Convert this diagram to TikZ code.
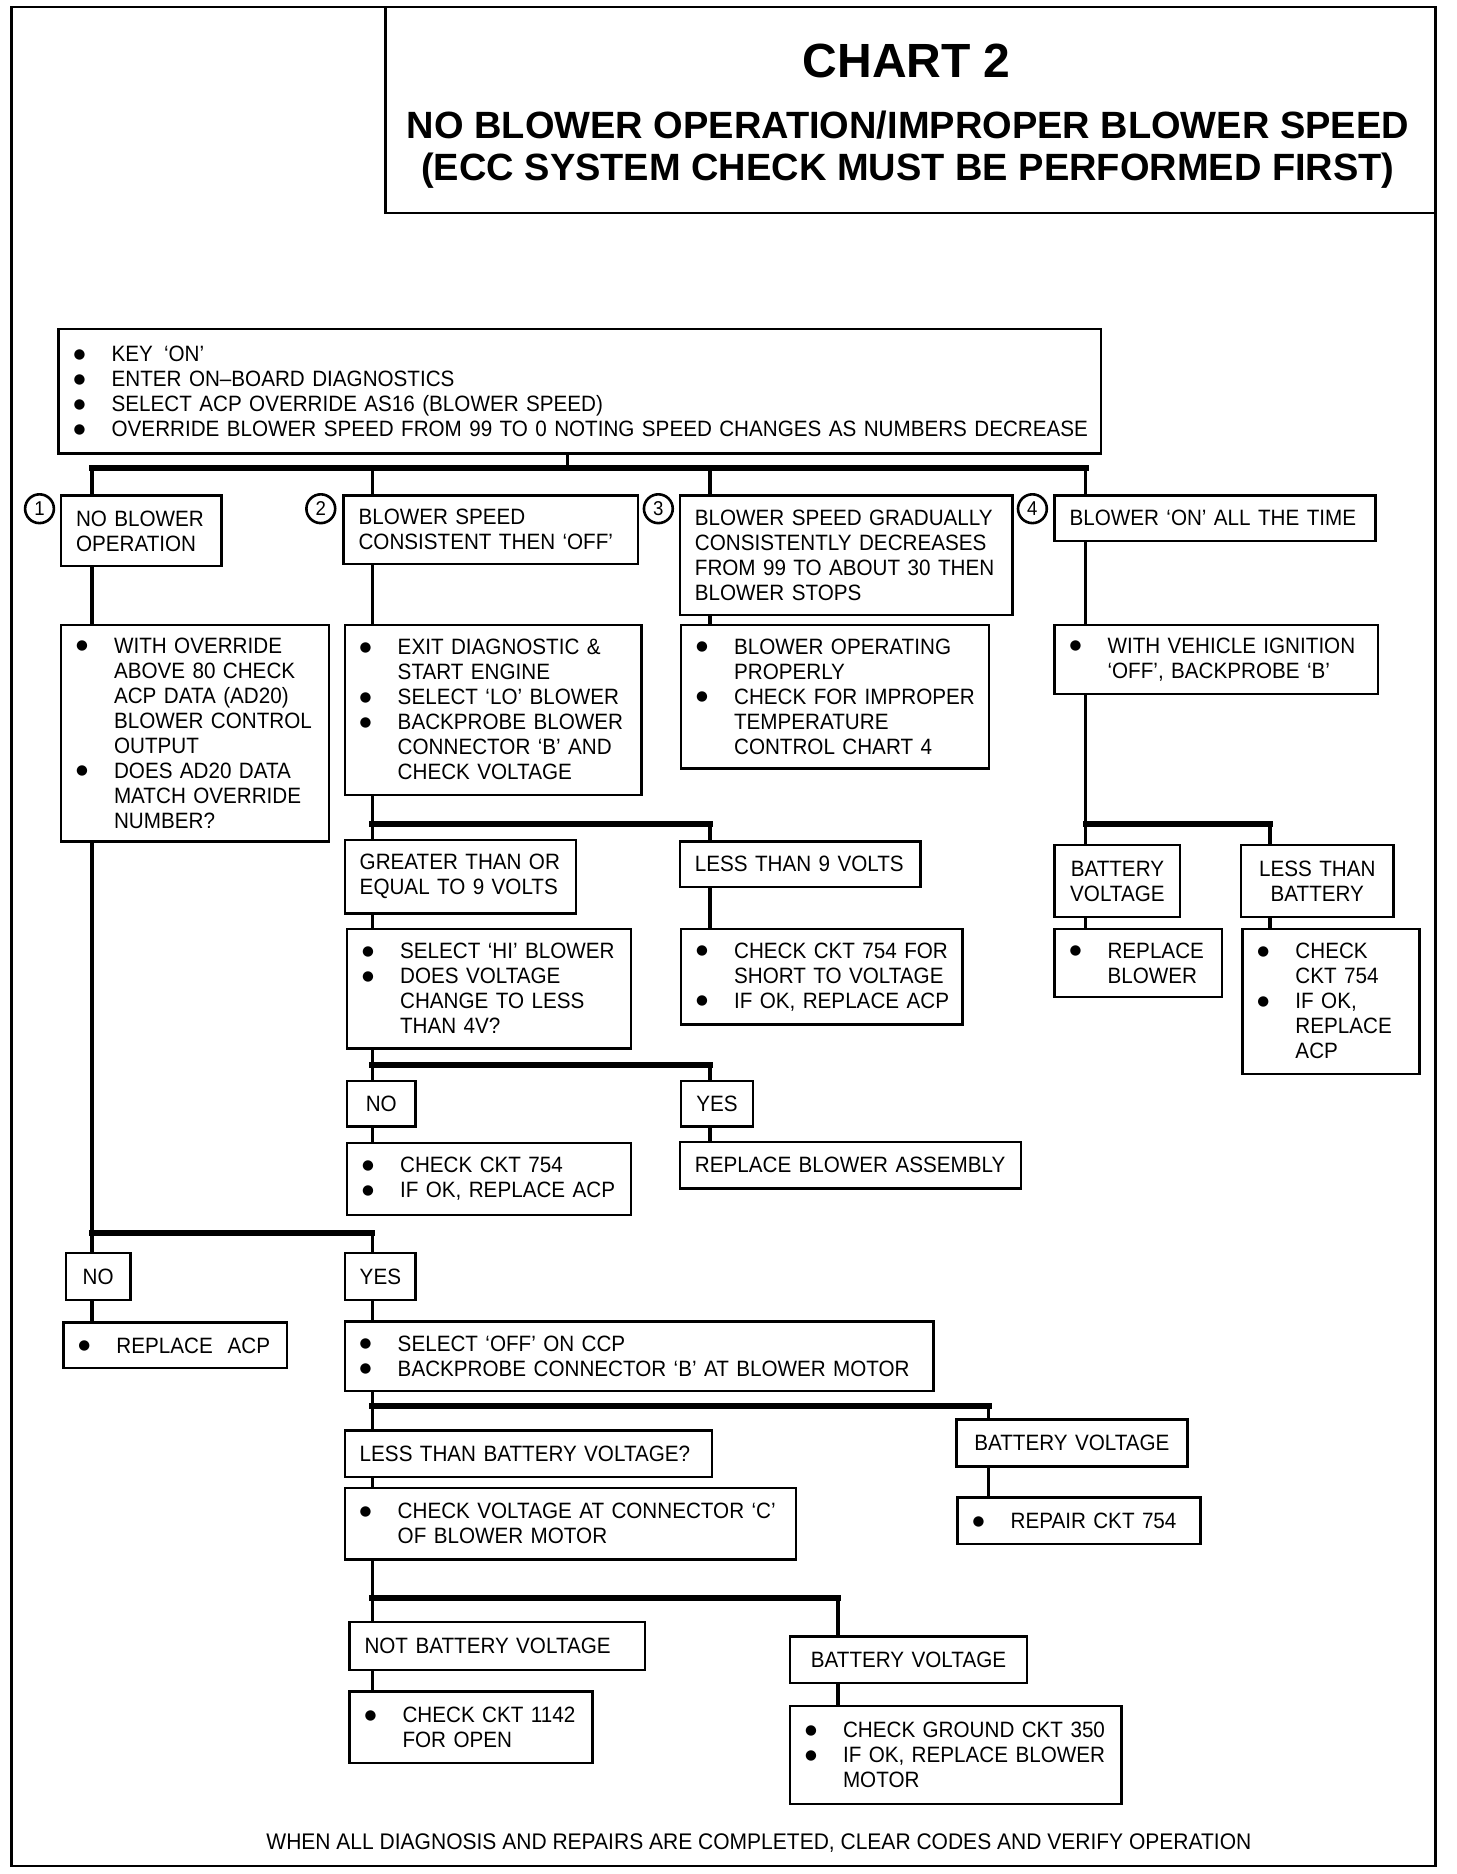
\documentclass[tikz,border=0pt]{standalone}
\usepackage{fontspec}
\setmainfont{Liberation Sans}[FakeStretch=0.93]
\newfontfamily\headfont{Liberation Sans}
\newfontfamily\dotfont{DejaVu Sans}
\newcommand\bodyfont{\fontsize{11.1pt}{12.5pt}\selectfont}
\newcommand\bul[1]{\mbox{\makebox[19pt][l]{\raisebox{1.7pt}{\dotfont\fontsize{6.8pt}{6.8pt}\selectfont ●}}#1}}
\newcommand\ind[1]{\mbox{\hspace*{19pt}#1}}
\newcommand\lne[1]{\mbox{#1}}

\begin{document}
\begin{tikzpicture}[x=0.5985pt, y=-0.5985pt,
        box/.style={draw, line width=1.2pt, anchor=north west, inner xsep=7.5pt, inner ysep=0pt, align=left, font=\bodyfont},
        ctr/.style={box, align=center},
        sz/.code 2 args={\pgfmathsetmacro\bw{#1*0.5985-15}\pgfmathsetmacro\bh{#2*0.5985}%
            \tikzset{text width/.expanded=\bw pt, minimum height/.expanded=\bh pt}},
        num/.style={draw, circle, line width=1.3pt, minimum size=14.4pt, inner sep=0pt, font=\fontsize{10pt}{10pt}\selectfont},
        wire/.style={line width=1.7pt},
        bus/.style={line width=3pt, line cap=rect},
        head/.style={anchor=base, font=\headfont\bfseries\fontsize{19pt}{19pt}\selectfont}]
        \useasboundingbox (0,0) rectangle (1216.4,1565.6);

        \draw[line width=1.3pt] (9.5,5.8) rectangle (1199,1559);
        \draw[line width=1.3pt] (322,5.8) rectangle (1199,178);
        \node[head, font=\headfont\bfseries\fontsize{24pt}{24pt}\selectfont] (chart) at (757.5,65) {CHART 2};
        \node[head] (head1) at (758.5,116) {NO BLOWER OPERATION/IMPROPER BLOWER SPEED};
        \node[head] (head2) at (758.5,151) {(ECC SYSTEM CHECK MUST BE PERFORMED FIRST)};

        \node[box, sz={871}{104}] (s) at (48,274) {\bul{KEY\enspace`ON'}\\ \bul{ENTER ON--BOARD DIAGNOSTICS}\\
            \bul{SELECT ACP OVERRIDE AS16 (BLOWER SPEED)}\\
            \bul{OVERRIDE BLOWER SPEED FROM 99 TO 0 NOTING SPEED CHANGES AS NUMBERS DECREASE}};

        \node[box, sz={134}{59}] (n1) at (50,413) {\lne{NO BLOWER}\\ \lne{OPERATION}};
        \node[box, sz={246}{57}] (n2) at (286,413) {\lne{BLOWER SPEED}\\ \lne{CONSISTENT THEN `OFF'}};
        \node[box, sz={278}{100}] (n3) at (567,413) {\lne{BLOWER SPEED GRADUALLY}\\ \lne{CONSISTENTLY DECREASES}\\
            \lne{FROM 99 TO ABOUT 30 THEN}\\ \lne{BLOWER STOPS}};
        \node[box, sz={268}{38}] (n4) at (880,413) {\lne{BLOWER `ON' ALL THE TIME}};
        \node[num] (c1) at (33,425) {1};
        \node[num] (c2) at (268,425) {2};
        \node[num] (c3) at (550,425) {3};
        \node[num] (c4) at (862.5,425) {4};

        \node[box, sz={224}{181}] (n1b) at (50,521) {\bul{WITH OVERRIDE}\\ \ind{ABOVE 80 CHECK}\\ \ind{ACP DATA (AD20)}\\
            \ind{BLOWER CONTROL}\\ \ind{OUTPUT}\\ \bul{DOES AD20 DATA}\\ \ind{MATCH OVERRIDE}\\ \ind{NUMBER?}};
        \node[box, sz={248}{142}] (n2b) at (287,521) {\bul{EXIT DIAGNOSTIC \&}\\ \ind{START ENGINE}\\ \bul{SELECT `LO' BLOWER}\\
            \bul{BACKPROBE BLOWER}\\ \ind{CONNECTOR `B' AND}\\ \ind{CHECK VOLTAGE}};
        \node[box, sz={257}{120}] (n3b) at (568,521) {\bul{BLOWER OPERATING}\\ \ind{PROPERLY}\\ \bul{CHECK FOR IMPROPER}\\
            \ind{TEMPERATURE}\\ \ind{CONTROL CHART 4}};
        \node[box, sz={270}{58}] (n4b) at (880,521) {\bul{WITH VEHICLE IGNITION}\\ \ind{`OFF', BACKPROBE `B'}};

        \node[box, sz={193}{61}] (g9) at (287,701) {\lne{GREATER THAN OR}\\ \lne{EQUAL TO 9 VOLTS}};
        \node[box, sz={201}{38}] (l9) at (567,702) {\lne{LESS THAN 9 VOLTS}};
        \node[ctr, sz={105}{60}] (bv4) at (880,705) {\lne{BATTERY}\\ \lne{VOLTAGE}};
        \node[ctr, sz={127}{60}] (lb4) at (1036,705) {\lne{LESS THAN}\\ \lne{BATTERY}};

        \node[box, sz={237}{100}] (hi) at (289,775) {\bul{SELECT `HI' BLOWER}\\ \bul{DOES VOLTAGE}\\ \ind{CHANGE TO LESS}\\ \ind{THAN 4V?}};
        \node[box, sz={235}{80}] (ck754s) at (568,775) {\bul{CHECK CKT 754 FOR}\\ \ind{SHORT TO VOLTAGE}\\ \bul{IF OK, REPLACE ACP}};
        \node[box, sz={140}{57}] (rb) at (880,775) {\bul{REPLACE}\\ \ind{BLOWER}};
        \node[box, sz={148}{121}] (ck754e) at (1037,775) {\bul{CHECK}\\ \ind{CKT 754}\\ \bul{IF OK,}\\ \ind{REPLACE}\\ \ind{ACP}};

        \node[ctr, sz={57}{38}] (no2) at (289,902) {\lne{NO}};
        \node[ctr, sz={60}{38}] (yes2) at (568,902) {\lne{YES}};
        \node[box, sz={237}{60}] (ck754n) at (289,954) {\bul{CHECK CKT 754}\\ \bul{IF OK, REPLACE ACP}};
        \node[box, sz={285}{39}] (rba) at (567,953) {\lne{REPLACE BLOWER ASSEMBLY}};

        \node[ctr, sz={54}{39}] (no1) at (54,1046) {\lne{NO}};
        \node[ctr, sz={59}{39}] (yes1) at (287,1046) {\lne{YES}};
        \node[box, sz={187}{38}] (racp) at (52,1104) {\bul{REPLACE\ \ ACP}};
        \node[box, sz={492}{58}] (off) at (287,1103) {\bul{SELECT `OFF' ON CCP}\\ \bul{BACKPROBE CONNECTOR `B' AT BLOWER MOTOR}};

        \node[box, sz={307}{39}] (ltbv) at (287,1194) {\lne{LESS THAN BATTERY VOLTAGE?}};
        \node[ctr, sz={193}{39}] (bv5) at (798,1185) {\lne{BATTERY VOLTAGE}};
        \node[box, sz={203}{39}] (rep754) at (799,1250) {\bul{REPAIR CKT 754}};
        \node[box, sz={377}{60}] (cvc) at (287,1242) {\bul{CHECK VOLTAGE AT CONNECTOR `C'}\\ \ind{OF BLOWER MOTOR}};

        \node[box, sz={247}{40}] (nbv) at (291,1354) {\lne{NOT BATTERY VOLTAGE}};
        \node[ctr, sz={198}{39}] (bv6) at (659,1366) {\lne{BATTERY VOLTAGE}};
        \node[box, sz={203}{60}] (ck1142) at (291,1412) {\bul{CHECK CKT 1142}\\ \ind{FOR OPEN}};
        \node[box, sz={277}{82}] (gnd) at (659,1424) {\bul{CHECK GROUND CKT 350}\\ \bul{IF OK, REPLACE BLOWER}\\ \ind{MOTOR}};

        \node[anchor=base, font=\fontsize{11.3pt}{12.5pt}\selectfont] (foot) at (634,1545) {WHEN ALL DIAGNOSIS AND REPAIRS ARE COMPLETED, CLEAR CODES AND VERIFY OPERATION};

        \coordinate (colS) at (474,0);
        \coordinate (colA) at (77,0);
        \coordinate (colB) at (311,0);
        \coordinate (colC) at (593,0);
        \coordinate (colD) at (907,0);
        \coordinate (colE) at (1061,0);
        \coordinate (colG) at (826,0);
        \coordinate (colH) at (700,0);
        \coordinate (bus1) at (0,391);
        \coordinate (bus2) at (0,688);
        \coordinate (bus4) at (0,688);
        \coordinate (bus3) at (0,890);
        \coordinate (bus0) at (0,1030);
        \coordinate (bus5) at (0,1175);
        \coordinate (bus6) at (0,1335);

        \draw[wire] (colS |- s.south) -- (colS |- bus1);
        \draw[bus] (colA |- bus1) -- (colD |- bus1);
        \foreach \cl/\dn in {colA/n1, colB/n2, colC/n3, colD/n4}
            \draw[wire] (\cl |- bus1) -- (\cl |- \dn.north);
        \foreach \cl/\up/\dn in {colA/n1/n1b, colB/n2/n2b, colC/n3/n3b, colD/n4/n4b, colB/g9/hi, colC/l9/ck754s,
                colD/bv4/rb, colE/lb4/ck754e, colB/no2/ck754n, colC/yes2/rba, colA/no1/racp, colB/yes1/off,
                colB/ltbv/cvc, colG/bv5/rep754, colB/nbv/ck1142, colH/bv6/gnd}
            \draw[wire] (\cl |- \up.south) -- (\cl |- \dn.north);
        \foreach \cl/\up/\ln in {colB/n2b/bus2, colB/hi/bus3, colA/n1b/bus0, colB/off/bus5, colB/cvc/bus6, colD/n4b/bus4}
            \draw[wire] (\cl |- \up.south) -- (\cl |- \ln);
        \foreach \cl/\ln/\dn in {colB/bus2/g9, colC/bus2/l9, colB/bus3/no2, colC/bus3/yes2, colD/bus4/bv4, colE/bus4/lb4,
                colA/bus0/no1, colB/bus0/yes1, colB/bus5/ltbv, colG/bus5/bv5, colB/bus6/nbv, colH/bus6/bv6}
            \draw[wire] (\cl |- \ln) -- (\cl |- \dn.north);
        \foreach \ln/\pa/\pb in {bus2/colB/colC, bus3/colB/colC, bus4/colD/colE, bus0/colA/colB, bus5/colB/colG, bus6/colB/colH}
            \draw[bus] (\pa |- \ln) -- (\pb |- \ln);
    \end{tikzpicture}
\end{document}
